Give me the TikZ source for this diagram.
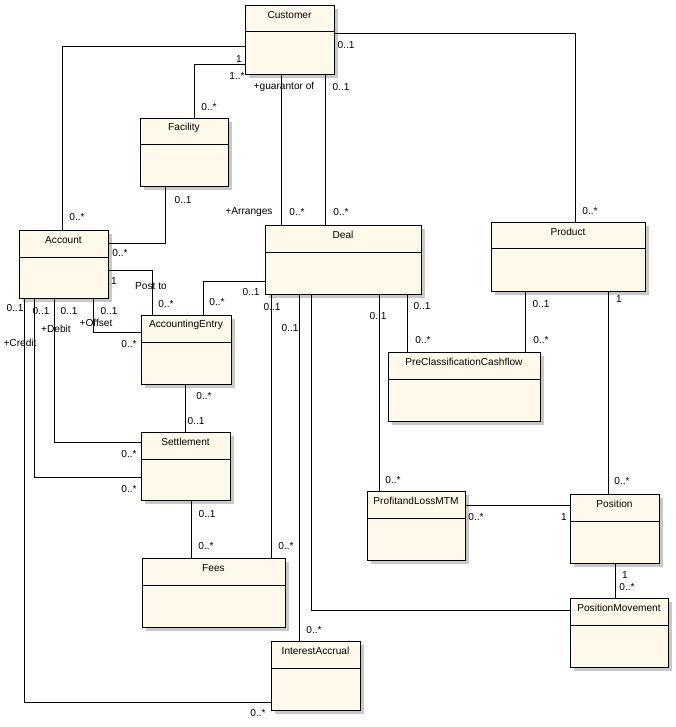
\documentclass[tikz,border=0pt]{standalone}
\usepackage{fontspec}
\setmainfont{Liberation Sans}
\definecolor{clsfill}{HTML}{FFF9EC}
\definecolor{shad}{HTML}{C8C8C8}
\begin{document}
\begin{tikzpicture}[x=0.75pt,y=-0.75pt,
  lbl/.style={font=\fontsize{7.6pt}{9pt}\selectfont, inner sep=0pt},
  conn/.style={draw=black, line width=0.75pt},
  box/.style={draw=black, fill=clsfill, line width=0.75pt, inner sep=0pt, anchor=north west}]
\useasboundingbox[fill=white] (0,0) rectangle (675,727);
\newcommand{\cls}[7]{%
  \fill[shad] (#2+4,#3+4) rectangle (#4+4,#5+4);
  \node[box, minimum width={(#4-#2)*0.75pt}, minimum height={(#5-#3)*0.75pt}] (#1) at (#2,#3) {};
  \draw[line width=0.75pt] (#2,#6) -- (#4,#6);
  \node[lbl] (#1-t) at ({(#2+#4)/2},{#3+10}) {#7};
}
\cls{cust}{245}{5}{334}{74}{32}{Customer}
\cls{fac}{140}{118}{228}{186}{145}{Facility}
\cls{acc}{19}{230}{108}{298}{257}{Account}
\cls{deal}{265}{225}{421}{294}{252}{Deal}
\cls{prod}{491}{222}{645}{291}{248}{Product}
\cls{ae}{141}{315}{231}{384}{342}{AccountingEntry}
\cls{pcc}{388}{352}{540}{421}{379}{PreClassificationCashflow}
\cls{set}{141}{432}{230}{500}{459}{Settlement}
\cls{pnl}{367}{491}{465}{560}{518}{ProfitandLossMTM}
\cls{pos}{570}{494}{659}{563}{521}{Position}
\cls{fees}{142}{558}{285}{627}{585}{Fees}
\cls{pm}{570}{598}{668}{667}{625}{PositionMovement}
\cls{ia}{271}{641}{360}{710}{668}{InterestAccrual}
% connectors
\draw[conn] (cust.west |- 0,47) -| (62,0 |- acc.north);
\draw[conn] (cust.west |- 0,65) -| (194,0 |- fac.north);
\draw[conn] (cust.east |- 0,34) -| (575,0 |- prod.north);
\draw[conn] (281,0 |- cust.south) -- (281,0 |- deal.north);
\draw[conn] (325,0 |- cust.south) -- (325,0 |- deal.north);
\draw[conn] (165,0 |- fac.south) |- (acc.east |- 0,243);
\draw[conn] (acc.east |- 0,270) -| (152,0 |- ae.north);
\draw[conn] (93,0 |- acc.south) |- (ae.west |- 0,332);
\draw[conn] (54,0 |- acc.south) |- (set.west |- 0,442);
\draw[conn] (34,0 |- acc.south) |- (set.west |- 0,477);
\draw[conn] (24,0 |- acc.south) |- (ia.west |- 0,702);
\draw[conn] (deal.west |- 0,281) -| (203,0 |- ae.north);
\draw[conn] (185,0 |- ae.south) -- (185,0 |- set.north);
\draw[conn] (191,0 |- set.south) -- (191,0 |- fees.north);
\draw[conn] (271,0 |- deal.south) -- (271,0 |- fees.north);
\draw[conn] (299,0 |- deal.south) -- (299,0 |- ia.north);
\draw[conn] (311,0 |- deal.south) |- (pm.west |- 0,610);
\draw[conn] (379,0 |- deal.south) -- (379,0 |- pnl.north);
\draw[conn] (407,0 |- deal.south) -- (407,0 |- pcc.north);
\draw[conn] (525,0 |- prod.south) -- (525,0 |- pcc.north);
\draw[conn] (608,0 |- prod.south) -- (608,0 |- pos.north);
\draw[conn] (pnl.east |- 0,505) -- (pos.west |- 0,505);
\draw[conn] (615,0 |- pos.south) -- (615,0 |- pm.north);
% labels
\foreach \x/\y/\t in {239/59/1, 237/76/{1..*}, 209/107/{0..*}, 77/217/{0..*},
  346/45/{0..1}, 590/211/{0..*}, 284/87/{+guarantor of}, 341/87/{0..1},
  249/212/{+Arranges}, 297/212/{0..*}, 341/212/{0..*}, 183/200/{0..1},
  120/253/{0..*}, 114/281/1, 151/286/{Post to}, 166/304/{0..*}, 217/302/{0..*},
  251/292/{0..1}, 15/308/{0..1}, 41/311/{0..1}, 69/311/{0..1}, 109/311/{0..1},
  56/329/{+Debit}, 96/323/{+Offset}, 20/343/{+Credit}, 129/344/{0..*},
  129/454/{0..*}, 129/489/{0..*}, 204/396/{0..*}, 196/421/{0..1},
  272/307/{0..1}, 290/328/{0..1}, 378/316/{0..1}, 422/306/{0..1},
  207/514/{0..1}, 206/546/{0..*}, 286/546/{0..*}, 314/630/{0..*}, 258/713/{0..*},
  423/340/{0..*}, 541/304/{0..1}, 541/340/{0..*}, 393/480/{0..*},
  622/481/{0..*}, 619/299/1, 476/517/{0..*}, 564/517/1, 625/575/1, 627/587/{0..*}}
  \node[lbl] at (\x,\y) {\t};
\end{tikzpicture}
\end{document}
